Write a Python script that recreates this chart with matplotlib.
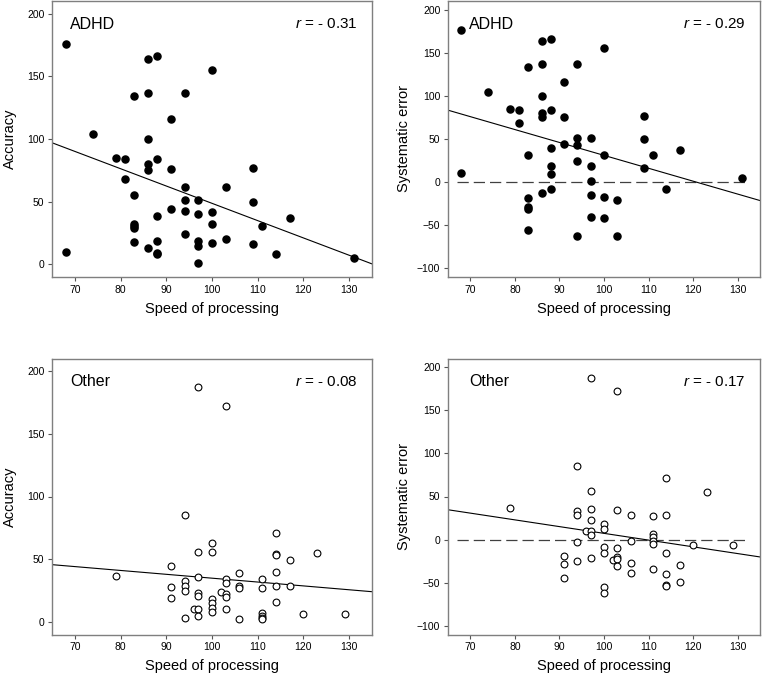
import numpy as np
import matplotlib
matplotlib.use('Agg')
import matplotlib.pyplot as plt

plt.rcParams['font.family'] = 'Liberation Sans'
plt.rcParams['mathtext.fontset'] = 'custom'
plt.rcParams['mathtext.it'] = 'Liberation Sans:italic'
plt.rcParams['mathtext.rm'] = 'Liberation Sans'

# ADHD group
speed_adhd = [68, 68, 74, 79, 81, 81, 83, 83, 83, 83, 83, 83, 86, 86, 86, 86, 86, 86,
              88, 88, 88, 88, 88, 88, 91, 91, 91, 94, 94, 94, 94, 94, 97, 97, 97, 97, 97,
              100, 100, 100, 100, 103, 103, 109, 109, 109, 111, 114, 117, 131]
acc_adhd = [176, 10, 104, 85, 84, 68, 134, 55, 32, 31, 29, 18, 164, 137, 100, 80, 75, 13,
            166, 84, 39, 19, 9, 8, 116, 76, 44, 137, 62, 51, 43, 24, 51, 40, 19, 15, 1,
            155, 42, 32, 17, 62, 20, 77, 50, 16, 31, 8, 37, 5]
err_adhd = [176, 10, 104, 85, 84, 68, 134, 32, -18, -29, -31, -55, 164, 137, 100, 80, 75, -13,
            166, 84, 39, 19, 9, -8, 116, 76, 44, 137, 51, 43, 24, -62, 51, 19, 1, -15, -40,
            155, 32, -17, -42, -21, -62, 77, 50, 16, 31, -8, 37, 5]

# Other group
speed_other = [79, 91, 91, 91, 94, 94, 94, 94, 94, 96, 97, 97, 97, 97, 97, 97, 97,
               100, 100, 100, 100, 100, 100, 102, 103, 103, 103, 103, 103, 103,
               106, 106, 106, 106, 111, 111, 111, 111, 111, 111,
               114, 114, 114, 114, 114, 114, 117, 117, 120, 123, 129]
acc_other = [37, 45, 28, 19, 85, 33, 29, 25, 3, 10, 187, 56, 36, 23, 21, 10, 5,
             63, 56, 18, 15, 11, 8, 24, 172, 34, 31, 22, 20, 10,
             39, 29, 27, 2, 34, 27, 7, 5, 3, 2,
             71, 54, 53, 40, 29, 16, 49, 29, 6, 55, 6]
err_other = [37, -19, -28, -45, 85, 33, 29, -3, -25, 10, 187, 56, 36, 23, 10, 5, -21,
             18, 12, -8, -16, -55, -62, -24, 172, 34, -10, -20, -22, -31,
             29, -2, -27, -39, 27, 7, 3, -2, -5, -34,
             71, 29, -16, -40, -53, -54, -29, -49, -6, 55, -6]

r_values = ['- 0.31', '- 0.29', '- 0.08', '- 0.17']

fig = plt.figure(figsize=(7.73, 6.85), dpi=100)
W, H = 773, 685

def make_axes(x0, y_top, w):
    return fig.add_axes([x0 / W, 1 - (y_top + 276) / H, w / W, 276 / H])

panels = [
    (make_axes(52, 1, 320), speed_adhd, acc_adhd, 'ADHD', 'Accuracy', True, False),
    (make_axes(448, 1, 312), speed_adhd, err_adhd, 'ADHD', 'Systematic error', True, True),
    (make_axes(52, 358.5, 320), speed_other, acc_other, 'Other', 'Accuracy', False, False),
    (make_axes(448, 358.5, 312), speed_other, err_other, 'Other', 'Systematic error', False, True),
]

for i, (ax, x, y, group, ylabel, filled, is_error) in enumerate(panels):
    x = np.array(x)
    y = np.array(y)
    if filled:
        ax.scatter(x, y, s=26, color='black', zorder=3)
    else:
        ax.scatter(x, y, s=24, facecolor='white', edgecolor='black', linewidth=0.8, zorder=3)

    # least squares line across the whole axis
    slope, icpt = np.polyfit(x, y, 1)
    xs = np.array([65, 135])
    ax.plot(xs, slope * xs + icpt, color='black', lw=0.8, zorder=2)

    if is_error:
        ax.axhline(0, xmin=0.03, xmax=0.955, color='#404040', lw=0.9,
                   dashes=(9, 4), zorder=1)
        ax.set_ylim(-110, 210)
        ax.set_yticks([-100, -50, 0, 50, 100, 150, 200])
        tx = 0.068
    else:
        ax.set_ylim(-10, 210)
        ax.set_yticks([0, 50, 100, 150, 200])
        tx = 0.056

    ax.set_xlim(65, 135)
    ax.set_xticks([70, 80, 90, 100, 110, 120, 130])

    ax.text(tx, 0.915, group, transform=ax.transAxes, fontsize=11.5, va='center', ha='left')
    ax.text(0.955, 0.915, r'$r$ = ' + r_values[i], transform=ax.transAxes,
            fontsize=11, va='center', ha='right')

    ax.set_xlabel('Speed of processing', fontsize=10.5, labelpad=5)
    ax.set_ylabel(ylabel, fontsize=10.5, va='center')
    ax.yaxis.set_label_coords(-0.13 if not is_error else -0.142, 0.5)

    for sp in ['top', 'right', 'left', 'bottom']:
        ax.spines[sp].set_color('#7f7f7f')
        ax.spines[sp].set_linewidth(1.0)
    ax.tick_params(direction='out', length=3, width=0.8, color='#555555',
                   labelsize=7.5, pad=2.5)

fig.savefig('out.png', dpi=100)
